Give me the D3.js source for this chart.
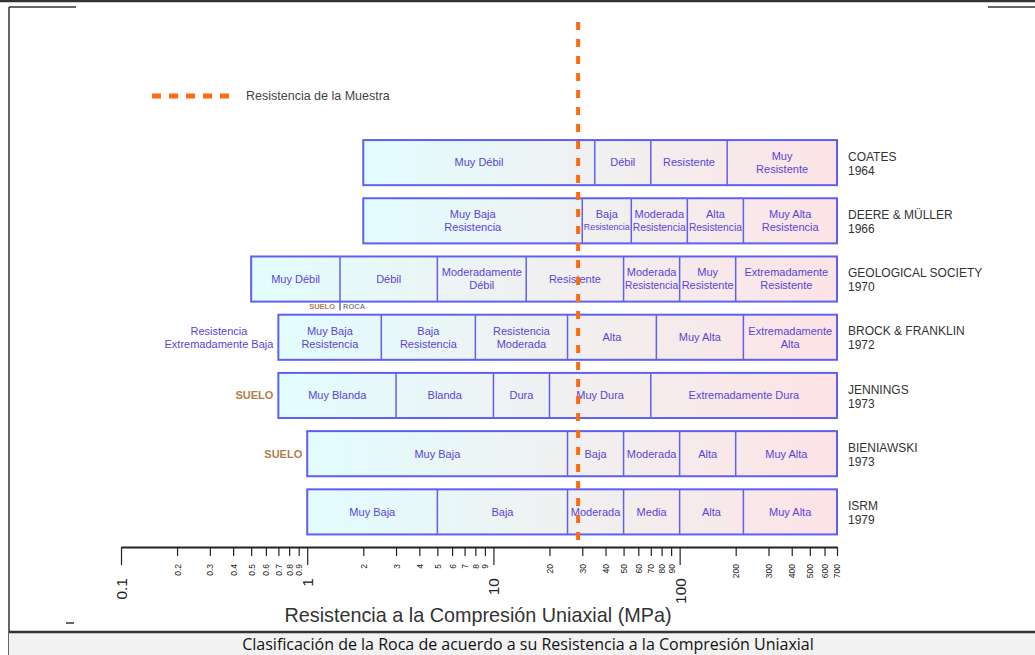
<!DOCTYPE html>
<html>
<head>
<meta charset="utf-8">
<script src="https://cdn.jsdelivr.net/npm/d3@7"></script>
<style>
  body { margin: 0; background: #fff; }
  svg { display: block; font-family: "Liberation Sans", Arial, sans-serif; }
</style>
</head>
<body>
<svg id="chart" width="1035" height="655"></svg>
<script>
// Clasificaciones (limites en MPa, escala log)
var sources = ["COATES", "DEERE & MÜLLER", "GEOLOGICAL SOCIETY", "BROCK & FRANKLIN", "JENNINGS", "BIENIAWSKI", "ISRM"];
var years = ["1964", "1966", "1970", "1972", "1973", "1973", "1979"];

var coatesBreaks = [2, 35, 70, 180, 700];
var coatesClasses = ["Muy Débil", "Débil", "Resistente", "Muy|Resistente"];

var deereBreaks = [2, 30, 55, 110, 220, 700];
var deereClasses = ["Muy Baja|Resistencia", "Baja|Resistencia", "Moderada|Resistencia", "Alta|Resistencia", "Muy Alta|Resistencia"];

var geolBreaks = [0.5, 1.5, 5, 15, 50, 100, 200, 700];
var geolClasses = ["Muy Débil", "Débil", "Moderadamente|Débil", "Resistente", "Moderada|Resistencia", "Muy|Resistente", "Extremadamente|Resistente"];

var brockBreaks = [0.7, 2.5, 8, 25, 75, 220, 700];
var brockClasses = ["Muy Baja|Resistencia", "Baja|Resistencia", "Resistencia|Moderada", "Alta", "Muy Alta", "Extremadamente|Alta"];

var jenningsBreaks = [0.7, 3, 10, 20, 70, 700];
var jenningsClasses = ["Muy Blanda", "Blanda", "Dura", "Muy Dura", "Extremadamente Dura"];

var bieniawskiBreaks = [1, 25, 50, 100, 200, 700];
var bieniawskiClasses = ["Muy Baja", "Baja", "Moderada", "Alta", "Muy Alta"];

var isrmBreaks = [1, 5, 25, 50, 100, 220, 700];
var isrmClasses = ["Muy Baja", "Baja", "Moderada", "Media", "Alta", "Muy Alta"];

var leftNotes = ["", "", "", "Resistencia|Extremadamente Baja", "SUELO", "SUELO", ""];
var soilRockLimit = 1.5; // GEOLOGICAL SOCIETY
var sampleStrength = 28.5;

var tickValues = [0.1, 0.2, 0.3, 0.4, 0.5, 0.6, 0.7, 0.8, 0.9,
                  1, 2, 3, 4, 5, 6, 7, 8, 9,
                  10, 20, 30, 40, 50, 60, 70, 80, 90,
                  100, 200, 300, 400, 500, 600, 700];
var majorTicks = [0.1, 1, 10, 100];

var breaks = [coatesBreaks, deereBreaks, geolBreaks, brockBreaks, jenningsBreaks, bieniawskiBreaks, isrmBreaks];
var classes = [coatesClasses, deereClasses, geolClasses, brockClasses, jenningsClasses, bieniawskiClasses, isrmClasses];

var rows = sources.map(function(s, i) {
    return { name: s, year: years[i], breaks: breaks[i], classes: classes[i], note: leftNotes[i] };
});

var svg = d3.select("#chart");
var x = d3.scaleLog().domain([0.1, 700]).range([121, 837]);
var y = d3.scaleBand().domain(sources).range([133.5, 541]).paddingInner(0.225).paddingOuter(0.1125);
var axisY = 547;

var boxStroke = "#6060f0", cellText = "#5a44d6";

// degradado de las barras
var grad = svg.append("defs").append("linearGradient").attr("id", "bandFill")
    .attr("x1", 0).attr("x2", 1).attr("y1", 0).attr("y2", 0);
grad.append("stop").attr("offset", "0%").attr("stop-color", "#e2fdff");
grad.append("stop").attr("offset", "50%").attr("stop-color", "#f0f0f0");
grad.append("stop").attr("offset", "100%").attr("stop-color", "#fde3e6");

// marco
svg.append("line").attr("x1", 0).attr("x2", 1035).attr("y1", 1).attr("y2", 1).attr("stroke", "#333").attr("stroke-width", 2.5);
svg.append("line").attr("x1", 9).attr("x2", 9).attr("y1", 7).attr("y2", 655).attr("stroke", "#333").attr("stroke-width", 1.5);
svg.append("line").attr("x1", 9).attr("x2", 76).attr("y1", 7).attr("y2", 7).attr("stroke", "#333").attr("stroke-width", 1.5);
svg.append("line").attr("x1", 988).attr("x2", 1035).attr("y1", 7).attr("y2", 7).attr("stroke", "#333").attr("stroke-width", 1.5);

// filas
var row = svg.selectAll("g.row").data(rows).enter().append("g").attr("class", "row")
    .attr("transform", function(d) { return "translate(0," + y(d.name) + ")"; });
var bh = y.bandwidth();

row.append("rect")
    .attr("x", function(d) { return x(d.breaks[0]); })
    .attr("width", function(d) { return x(d.breaks[d.breaks.length - 1]) - x(d.breaks[0]); })
    .attr("height", bh)
    .attr("fill", "url(#bandFill)")
    .attr("stroke", boxStroke).attr("stroke-width", 2);

row.each(function(d) {
    var g = d3.select(this);
    d.breaks.slice(1, -1).forEach(function(b) {
        g.append("line").attr("x1", x(b)).attr("x2", x(b)).attr("y1", 0).attr("y2", bh)
            .attr("stroke", boxStroke).attr("stroke-width", 1.5);
    });
    d.classes.forEach(function(c, k) {
        var x0 = x(d.breaks[k]), x1 = x(d.breaks[k + 1]);
        var lines = c.split("|");
        lines.forEach(function(ln, j) {
            var t = g.append("text")
                .attr("x", (x0 + x1) / 2)
                .attr("y", bh / 2 + (j - (lines.length - 1) / 2) * 13)
                .attr("dy", "0.35em")
                .attr("text-anchor", "middle")
                .attr("font-size", 11)
                .attr("fill", cellText)
                .text(ln);
            var w = t.node().getComputedTextLength(), room = x1 - x0 - 3;
            if (w > room) t.attr("font-size", Math.max(7.5, 11 * room / w));
        });
    });
    // nombre y año
    g.append("text").attr("x", 848).attr("y", bh / 2 - 6).attr("dy", "0.35em")
        .attr("font-size", 12).attr("fill", "#333").text(d.name);
    g.append("text").attr("x", 848).attr("y", bh / 2 + 8).attr("dy", "0.35em")
        .attr("font-size", 12).attr("fill", "#333").text(d.year);
    // notas a la izquierda
    if (d.note === "SUELO") {
        g.append("text").attr("x", x(d.breaks[0]) - 5).attr("y", bh / 2).attr("dy", "0.35em")
            .attr("text-anchor", "end").attr("font-size", 11).attr("font-weight", "bold")
            .attr("fill", "#ad7f4f").text(d.note);
    } else if (d.note) {
        var nl = d.note.split("|");
        var ts = nl.map(function(ln, j) {
            return g.append("text").attr("y", bh / 2 + (j - (nl.length - 1) / 2) * 13).attr("dy", "0.35em")
                .attr("text-anchor", "middle").attr("font-size", 11).attr("fill", cellText).text(ln);
        });
        var mw = d3.max(ts, function(t) { return t.node().getComputedTextLength(); });
        ts.forEach(function(t) { t.attr("x", x(d.breaks[0]) - 5 - mw / 2); });
    }
});

// SUELO | ROCA bajo GEOLOGICAL SOCIETY
var gy = y("GEOLOGICAL SOCIETY") + bh;
svg.append("line").attr("x1", x(soilRockLimit)).attr("x2", x(soilRockLimit)).attr("y1", gy).attr("y2", gy + 9)
    .attr("stroke", boxStroke).attr("stroke-width", 1.5);
svg.append("text").attr("x", x(soilRockLimit) - 5).attr("y", gy + 7).attr("text-anchor", "end")
    .attr("font-size", 7.5).attr("font-weight", "bold").attr("fill", "#ad7f4f").text("SUELO");
svg.append("text").attr("x", x(soilRockLimit) + 3).attr("y", gy + 7)
    .attr("font-size", 7.5).attr("font-weight", "bold").attr("fill", "#888").text("ROCA");

// eje
var axis = svg.append("g").attr("transform", "translate(0," + axisY + ")")
    .call(d3.axisBottom(x).tickValues(tickValues).tickSize(9).tickSizeOuter(0)
        .tickFormat(function(d) { return String(d); }));
axis.select(".domain").attr("stroke", "#222").attr("stroke-width", 2);
axis.selectAll(".tick line").attr("stroke", "#222").attr("stroke-width", 1.2)
    .attr("y2", function(d) { return majorTicks.indexOf(d) >= 0 ? 18 : 9; });
axis.selectAll(".tick text")
    .attr("transform", "rotate(-90)")
    .attr("text-anchor", "end")
    .attr("x", function(d) { return majorTicks.indexOf(d) >= 0 ? -31 : -17; })
    .attr("y", 0).attr("dy", "0.35em")
    .attr("fill", "#222")
    .attr("font-family", "'Liberation Sans', Arial, sans-serif")
    .attr("font-size", function(d) { return majorTicks.indexOf(d) >= 0 ? 15.5 : 8.5; });

svg.append("text").attr("x", 478).attr("y", 622).attr("text-anchor", "middle")
    .attr("font-size", 19.8).attr("fill", "#333").text("Resistencia a la Compresión Uniaxial (MPa)");
svg.append("line").attr("x1", 66).attr("x2", 74).attr("y1", 623).attr("y2", 623).attr("stroke", "#333").attr("stroke-width", 1.5);

// resistencia de la muestra
svg.append("line").attr("x1", x(sampleStrength)).attr("x2", x(sampleStrength)).attr("y1", 22).attr("y2", axisY)
    .attr("stroke", "#ff6a10").attr("stroke-width", 4).attr("stroke-dasharray", "8,9");

// leyenda
svg.append("line").attr("x1", 152).attr("x2", 230).attr("y1", 96).attr("y2", 96)
    .attr("stroke", "#ff6a10").attr("stroke-width", 5).attr("stroke-dasharray", "9,8");
svg.append("text").attr("x", 246).attr("y", 96).attr("dy", "0.35em").attr("font-size", 12.5)
    .attr("fill", "#444").text("Resistencia de la Muestra");

// pie
svg.append("rect").attr("x", 9).attr("y", 632).attr("width", 1026).attr("height", 23).attr("fill", "#f2f2f2");
svg.append("line").attr("x1", 9).attr("x2", 1035).attr("y1", 632).attr("y2", 632).attr("stroke", "#333").attr("stroke-width", 2.5);
svg.append("text").attr("x", 528).attr("y", 650).attr("text-anchor", "middle")
    .attr("font-family", "'Open Sans', sans-serif").attr("font-size", 16).attr("fill", "#111")
    .text("Clasificación de la Roca de acuerdo a su Resistencia a la Compresión Uniaxial");
</script>
</body>
</html>
